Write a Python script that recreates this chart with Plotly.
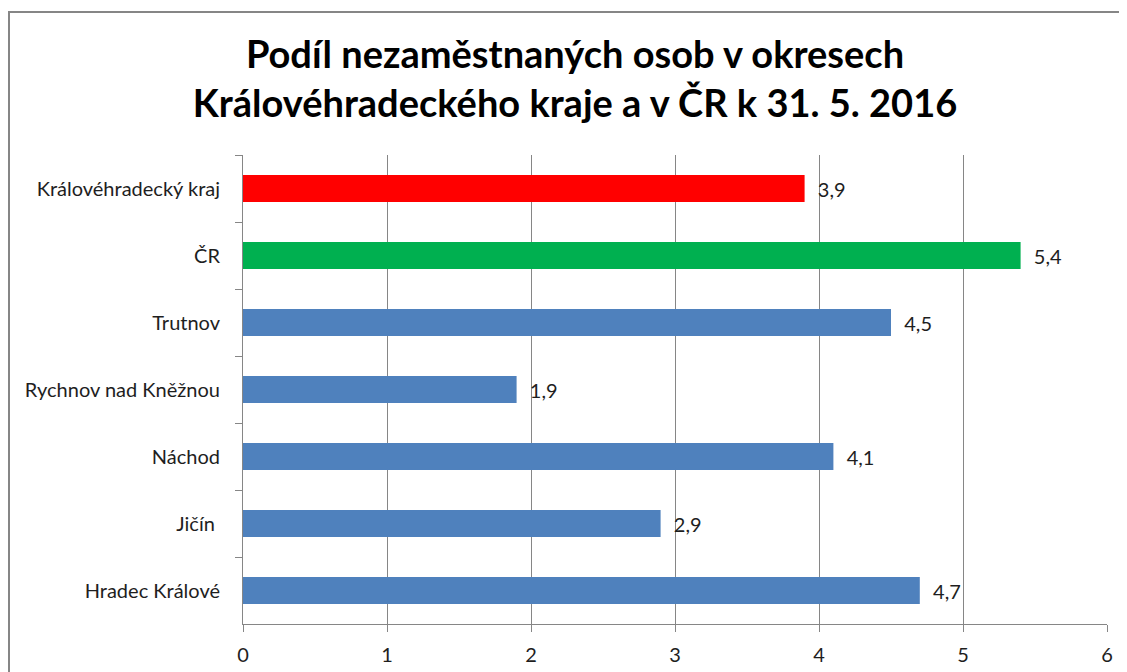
import plotly.graph_objects as go

categories = ["Královéhradecký kraj", "ČR", "Trutnov", "Rychnov nad Kněžnou",
              "Náchod", "Jičín ", "Hradec Králové"]
values = [3.9, 5.4, 4.5, 1.9, 4.1, 2.9, 4.7]
colors = ["#FF0000", "#00B050", "#4F81BD", "#4F81BD", "#4F81BD", "#4F81BD", "#4F81BD"]
title_lines = ["Podíl nezaměstnaných osob v okresech",
               "Královéhradeckého kraje a v ČR k 31. 5. 2016"]
x_ticks = [0, 1, 2, 3, 4, 5, 6]

OFF = 8  # default page body margin
W, H = 1127 - OFF, 672 - OFF
L, R, T, B = 243 - OFF, 20, 155 - OFF, 48
pw, ph = W - L - R, H - T - B
FONT = "Lato"
TXT = "#1e1e1e"

fig = go.Figure(go.Bar(
    x=values, y=categories, orientation="h",
    marker=dict(color=colors, line=dict(width=0)),
    texttemplate="  %{x:.1f}", textposition="outside",
    textfont=dict(size=20, color=TXT, family=FONT),
    cliponaxis=False,
))

fig.update_layout(
    width=W, height=H,
    margin=dict(l=L, r=R, t=T, b=B, autoexpand=False),
    paper_bgcolor="white", plot_bgcolor="white",
    separators=", ",
    bargap=0.6,
    showlegend=False,
    font=dict(family=FONT, size=20, color=TXT),
    title=dict(text="<br>".join(title_lines),
               x=(575 - OFF) / W, xanchor="center", xref="container",
               y=1 - (68 - OFF) / H, yanchor="middle", yref="container",
               font=dict(family=FONT, size=38, color="#000000", weight="bold")),
    xaxis=dict(range=[0, 6], tickvals=x_ticks, showgrid=True, gridcolor="#868686",
               gridwidth=1, zeroline=False, showline=True, linecolor="#868686",
               ticks="outside", ticklen=7, tickcolor="#868686",
               ticklabelstandoff=6, automargin=False,
               tickfont=dict(size=20, family=FONT, color=TXT)),
    yaxis=dict(autorange="reversed", showline=True, linecolor="#868686",
               ticks="outside", ticklen=7, tickcolor="#868686", tickson="boundaries",
               ticklabelstandoff=18, showgrid=False, automargin=False,
               tickfont=dict(size=20, family=FONT, color=TXT)),
    shapes=[dict(type="rect", xref="paper", yref="paper",
                 x0=(1 - L) / pw, x1=(W + 30 - L) / pw,
                 y0=(T + ph - 700) / ph, y1=(T + ph - 4) / ph,
                 line=dict(color="#868686", width=2), layer="below")],
)

fig.write_html("out.html")
